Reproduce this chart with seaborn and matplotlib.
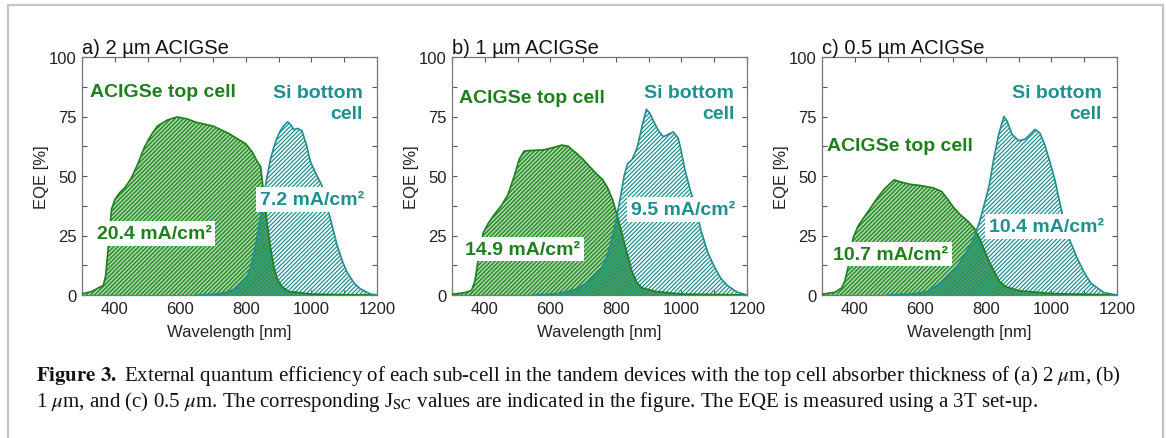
import numpy as np
import pandas as pd
import matplotlib
matplotlib.use("Agg")
import matplotlib.pyplot as plt
import matplotlib.ticker as mticker
from matplotlib.lines import Line2D
import seaborn as sns

# ---------------- data ----------------
panel_titles = ["a) 2 µm ACIGSe", "b) 1 µm ACIGSe", "c) 0.5 µm ACIGSe"]

top_wl_a = [300, 330, 350, 365, 372, 380, 390, 400, 415, 430, 450, 470, 490, 510, 530, 560, 590, 620, 650, 700, 750, 800, 820, 835, 845, 855, 865, 875, 885, 895, 910, 930, 1000, 1100, 1200]
top_eqe_a = [0.5, 1.5, 3, 4, 8, 20, 36, 40, 43, 45, 49, 55, 62, 67, 71, 73.5, 74.8, 74, 72.5, 71, 67.7, 63.5, 60, 56, 54, 42, 30, 20, 12, 7, 3.5, 1.5, 0.4, 0.1, 0]
bot_wl_a = [650, 700, 730, 750, 770, 790, 805, 815, 825, 835, 845, 855, 865, 875, 885, 895, 905, 915, 927, 937, 946, 958, 971, 985, 997, 1017, 1032, 1045, 1058, 1078, 1095, 1109, 1130, 1150, 1180, 1200]
bot_eqe_a = [0, 0.3, 0.8, 1.5, 3, 5.5, 8, 12, 18, 25, 33, 42, 50, 57, 62, 66, 69, 71, 72.8, 71.5, 69.5, 70, 69, 63, 56, 50, 46, 38, 32, 21, 14, 9.5, 5, 2.5, 0.4, 0]

top_wl_b = [300, 340, 360, 370, 380, 395, 410, 430, 450, 470, 490, 505, 520, 550, 580, 610, 635, 655, 680, 700, 720, 740, 760, 775, 790, 805, 820, 835, 850, 865, 880, 920, 1000, 1200]
top_eqe_b = [0.3, 1, 2, 6, 15, 26, 30, 34, 37.5, 42, 50, 57, 60.5, 60.8, 61, 62, 63, 62.5, 59.5, 57, 54, 51, 48.5, 45, 40, 33, 25, 17, 9.5, 5, 3, 1.5, 0.4, 0]
bot_wl_b = [550, 620, 680, 720, 750, 770, 785, 800, 815, 825, 835, 850, 865, 880, 893, 903, 915, 930, 945, 960, 975, 990, 1000, 1010, 1025, 1040, 1060, 1080, 1100, 1120, 1140, 1170, 1200]
bot_eqe_b = [0, 0.5, 2.5, 6, 10, 15, 22, 31, 42, 50, 55, 57, 62, 71, 78, 76.5, 73, 69, 66.5, 67.5, 68.5, 66, 60, 53, 45, 38, 27, 18, 12, 7, 4, 1.2, 0]

top_wl_c = [300, 340, 360, 370, 380, 395, 410, 430, 450, 470, 490, 505, 520, 540, 570, 600, 640, 665, 685, 700, 720, 745, 765, 780, 795, 810, 825, 840, 860, 900, 1000, 1200]
top_eqe_c = [0.3, 1.2, 3, 6, 12, 24, 29, 33, 37, 41, 44.5, 46.5, 48.4, 47.5, 46.5, 46, 45, 43.5, 40, 37, 34, 31, 28, 24, 19, 14, 10, 6, 3.5, 1.8, 0.6, 0]
bot_wl_c = [500, 580, 620, 650, 680, 710, 740, 760, 780, 795, 810, 825, 840, 855, 865, 880, 900, 920, 935, 950, 965, 980, 995, 1010, 1030, 1050, 1080, 1100, 1120, 1160, 1200]
bot_eqe_c = [0, 0.5, 1.5, 4, 7, 11.5, 18, 23, 30.5, 38, 46, 58, 68, 75, 73, 67.5, 64.8, 65.5, 67.5, 69.6, 68, 63, 56, 48.7, 36, 25, 15, 9.5, 5, 1, 0]

top_jsc = ["20.4 mA/cm²", "14.9 mA/cm²", "10.7 mA/cm²"]
bot_jsc = ["7.2 mA/cm²", "9.5 mA/cm²", "10.4 mA/cm²"]

# label anchor positions (data coords)
top_label_pos = [(324, 85.3), (320, 83), (315, 62.7)]
bot_label_pos = [(1157, 80.7), (1161, 80.5), (1154, 80.5)]
top_jsc_pos = [(520, 26), (515, 19.3), (509, 17.2)]
bot_jsc_pos = [(1001, 40), (1004, 35.8), (985, 28.8)]

caption_1 = (r"$\mathbf{Figure\ 3.}$ External quantum efficiency of each sub-cell in the tandem devices "
             r"with the top cell absorber thickness of (a) 2 $\mu$m, (b)")
caption_2 = (r"1 $\mu$m, and (c) 0.5 $\mu$m. The corresponding J$_{\mathrm{SC}}$ values are indicated "
             r"in the figure. The EQE is measured using a 3T set-up.")

# ---------------- style ----------------
sns.set_theme(style="ticks")
plt.rcParams["font.family"] = ["Liberation Sans", "DejaVu Sans"]
plt.rcParams["mathtext.fontset"] = "stix"
plt.rcParams["hatch.linewidth"] = 0.9

GREEN = "#1f7f1f"
GREEN_FILL = "#2e902e"
GREEN_HATCH = "#bde0bd"
TEAL = "#1f8f8f"

fig = plt.figure(figsize=(11.66, 4.39), dpi=100)
W, H = 1166, 439
lefts = [82, 452, 822]
ax_w = 295
ax_top, ax_bot = 58, 296

series = [
    (top_wl_a, top_eqe_a, bot_wl_a, bot_eqe_a),
    (top_wl_b, top_eqe_b, bot_wl_b, bot_eqe_b),
    (top_wl_c, top_eqe_c, bot_wl_c, bot_eqe_c),
]

for i in range(3):
    ax = fig.add_axes([lefts[i] / W, (H - ax_bot) / H, ax_w / W, (ax_bot - ax_top) / H])
    twl, teqe, bwl, beqe = series[i]
    df_t = pd.DataFrame({"wl": twl, "eqe": teqe})
    df_b = pd.DataFrame({"wl": bwl, "eqe": beqe})

    ax.fill_between(df_t["wl"], 0, df_t["eqe"], facecolor=GREEN_FILL, edgecolor=GREEN_HATCH,
                    hatch="////////", linewidth=0, zorder=1)
    ax.fill_between(df_b["wl"], 0, df_b["eqe"], facecolor="none", edgecolor=TEAL,
                    hatch="////////", linewidth=0, zorder=2)
    sns.lineplot(data=df_t, x="wl", y="eqe", ax=ax, color=GREEN, linewidth=1.2,
                 estimator=None, sort=False, zorder=3)
    sns.lineplot(data=df_b, x="wl", y="eqe", ax=ax, color=TEAL, linewidth=1.2,
                 estimator=None, sort=False, zorder=3)

    ax.set_xlim(300, 1200)
    ax.set_ylim(0, 100)
    ax.xaxis.set_major_locator(mticker.FixedLocator([400, 600, 800, 1000, 1200]))
    ax.xaxis.set_minor_locator(mticker.MultipleLocator(100))
    ax.yaxis.set_major_locator(mticker.MultipleLocator(25))
    ax.yaxis.set_minor_locator(mticker.MultipleLocator(12.5))
    ax.tick_params(which="both", direction="in", top=True, right=True,
                   length=3.5, width=0.8, color="#555555")
    ax.tick_params(which="major", labelsize=12, pad=4, labelcolor="#222222")
    for s in ax.spines.values():
        s.set_color("#777777")
        s.set_linewidth(0.9)
    ax.set_xlabel("Wavelength [nm]", fontsize=12, color="#222222", labelpad=6)
    ax.set_ylabel("EQE [%]", fontsize=12, color="#222222", labelpad=0)
    ax.set_title(panel_titles[i], loc="left", fontsize=14.5, pad=3, color="#111111")
    ax.grid(False)

    ax.text(*top_label_pos[i], "ACIGSe top cell", color=GREEN, fontsize=14, fontweight="bold",
            ha="left", va="center", zorder=5)
    ax.text(*bot_label_pos[i], "Si bottom\ncell", color=TEAL, fontsize=14, fontweight="bold",
            ha="right", va="center", multialignment="right", linespacing=1.3, zorder=5)
    box = dict(boxstyle="square,pad=0.2", facecolor="white", edgecolor="none")
    ax.text(*top_jsc_pos[i], top_jsc[i], color=GREEN, fontsize=14, fontweight="bold",
            ha="center", va="center", bbox=box, zorder=6)
    ax.text(*bot_jsc_pos[i], bot_jsc[i], color=TEAL, fontsize=14, fontweight="bold",
            ha="center", va="center", bbox=box, zorder=6)

# caption
fig.text(36 / W, (H - 381) / H, caption_1, family="Liberation Serif", fontsize=15,
         ha="left", va="baseline", color="#111111")
fig.text(36 / W, (H - 407) / H, caption_2, family="Liberation Serif", fontsize=15,
         ha="left", va="baseline", color="#111111")

# outer frame (top, left, right)
fc = "#c4c4c4"
fig.add_artist(Line2D([8 / W, 8 / W], [0, 1 - 6 / H], color=fc, lw=1.6))
fig.add_artist(Line2D([1163 / W, 1163 / W], [0, 1 - 6 / H], color=fc, lw=1.6))
fig.add_artist(Line2D([8 / W, 1163 / W], [1 - 6 / H, 1 - 6 / H], color=fc, lw=1.6))

fig.savefig("out.png", dpi=100, facecolor="white")
